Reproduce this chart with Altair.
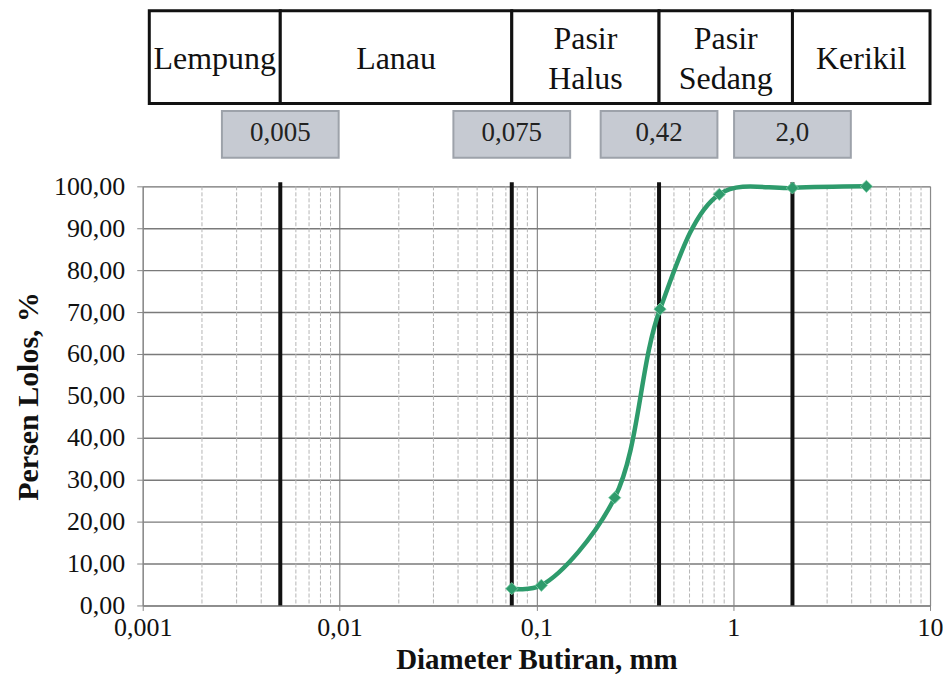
import altair as alt
import pandas as pd

# grain size data (sieve analysis)
diameter = [0.075, 0.106, 0.25, 0.425, 0.85, 2.0, 4.75]
persen_lolos = [4.0, 4.8, 25.7, 70.7, 98.1, 99.6, 100.0]

# soil classification boundaries
batas = [0.005, 0.075, 0.42, 2.0]
batas_label = ["0,005", "0,075", "0,42", "2,0"]

# classification table cells
kelas = ["Lempung", "Lanau", "Pasir\nHalus", "Pasir\nSedang", "Kerikil"]
kelas_lo = [0.00108, 0.005, 0.075, 0.42, 2.0]
kelas_hi = [0.005, 0.075, 0.42, 2.0, 10.0]
kelas_baris = [1, 1, 2, 2, 1]

x_ticks = [0.001, 0.01, 0.1, 1, 10]
minor_ticks = [m * d for d in [0.001, 0.01, 0.1, 1] for m in [2, 3, 4, 5, 6, 7, 8, 9]]
y_ticks = [0, 10, 20, 30, 40, 50, 60, 70, 80, 90, 100]

FONT = "Liberation Serif, Times New Roman, DejaVu Serif, serif"
GREEN = "#2e9b6c"

df = pd.DataFrame({"d": diameter, "p": persen_lolos})
df_b = pd.DataFrame({"v": batas, "lab": batas_label})
df_k = pd.DataFrame({"nama": kelas, "lo": kelas_lo, "hi": kelas_hi, "n": kelas_baris})
df_m = pd.DataFrame({"v": minor_ticks})

xs = alt.Scale(type="log", domain=[0.001, 10], nice=False)
ys = alt.Scale(domain=[0, 100], nice=False)

x_axis = alt.Axis(
    values=x_ticks,
    labelExpr="replace(format(datum.value, '~g'), '.', ',')",
    title="Diameter Butiran, mm",
    grid=True, gridColor="#8a8a8a", gridWidth=1.2,
    tickSize=5, tickColor="#888", domainColor="#888",
    labelFont=FONT, labelFontSize=26, labelColor="#111", labelPadding=4,
    titleFont=FONT, titleFontSize=29, titleFontWeight="bold", titleColor="#111",
    titlePadding=5, labelFlush=False,
)
y_axis = alt.Axis(
    values=y_ticks,
    labelExpr="replace(format(datum.value, '.2f'), '.', ',')",
    title="Persen Lolos, %",
    grid=True, gridColor="#7a7a7a", gridWidth=1.4,
    tickSize=6, tickColor="#888", domainColor="#888",
    labelFont=FONT, labelFontSize=26, labelColor="#111", labelPadding=12,
    titleFont=FONT, titleFontSize=30, titleFontWeight="bold", titleColor="#111",
    titlePadding=10,
)

minor = alt.Chart(df_m).mark_rule(color="#b5b5b5", strokeWidth=1, strokeDash=[4, 2]).encode(
    x=alt.X("v:Q", scale=xs, axis=x_axis),
    y=alt.value(0), y2=alt.value(420),
)

base_axes = alt.Chart(df).mark_point(opacity=0).encode(
    x=alt.X("d:Q", scale=xs, axis=x_axis),
    y=alt.Y("p:Q", scale=ys, axis=y_axis),
)

thick = alt.Chart(df_b).mark_rule(color="#111", strokeWidth=4).encode(
    x=alt.X("v:Q", scale=xs),
    y=alt.value(-4), y2=alt.value(420),
)

line = alt.Chart(df).mark_line(color=GREEN, strokeWidth=4.5, interpolate="catmull-rom").encode(
    x=alt.X("d:Q", scale=xs),
    y=alt.Y("p:Q", scale=ys),
)
pts = alt.Chart(df).mark_point(shape="diamond", filled=True, color=GREEN, size=150, opacity=1,
                               stroke="#7fd0a8", strokeWidth=0.8).encode(
    x=alt.X("d:Q", scale=xs),
    y=alt.Y("p:Q", scale=ys),
)

table = alt.Chart(df_k).mark_rect(fill="white", stroke="#111", strokeWidth=3).encode(
    x=alt.X("lo:Q", scale=xs), x2="hi:Q",
    y=alt.value(-176), y2=alt.value(-83),
)
table_txt1 = alt.Chart(df_k).transform_filter("datum.n == 1").transform_calculate(
    mid="sqrt(datum.lo * datum.hi)"
).mark_text(font=FONT, fontSize=32, color="#111", baseline="middle").encode(
    x=alt.X("mid:Q", scale=xs),
    y=alt.value(-128),
    text="nama:N",
)
table_txt2 = alt.Chart(df_k).transform_filter("datum.n == 2").transform_calculate(
    mid="sqrt(datum.lo * datum.hi)"
).mark_text(font=FONT, fontSize=32, color="#111", baseline="middle", lineBreak="\n",
            lineHeight=40).encode(
    x=alt.X("mid:Q", scale=xs),
    y=alt.value(-148),
    text="nama:N",
)

boxes = alt.Chart(df_b).mark_point(
    shape="M-1,-0.4L1,-0.4L1,0.4L-1,0.4Z", size=117 * 117, filled=True,
    fill="#c6cad2", stroke="#9da2aa", strokeWidth=2, opacity=1,
).encode(
    x=alt.X("v:Q", scale=xs),
    y=alt.value(-52),
)
box_txt = alt.Chart(df_b).mark_text(font=FONT, fontSize=27, color="#222", baseline="middle").encode(
    x=alt.X("v:Q", scale=xs),
    y=alt.value(-53),
    text="lab:N",
)

chart = alt.layer(minor, base_axes, thick, line, pts, table, table_txt1, table_txt2, boxes, box_txt).properties(
    width=789, height=420,
    padding={"left": 5, "top": 0, "right": 0, "bottom": 4},
).configure_view(stroke=None).configure(background="white")

chart.save("out.html", embed_options={"renderer": "svg", "actions": False})
